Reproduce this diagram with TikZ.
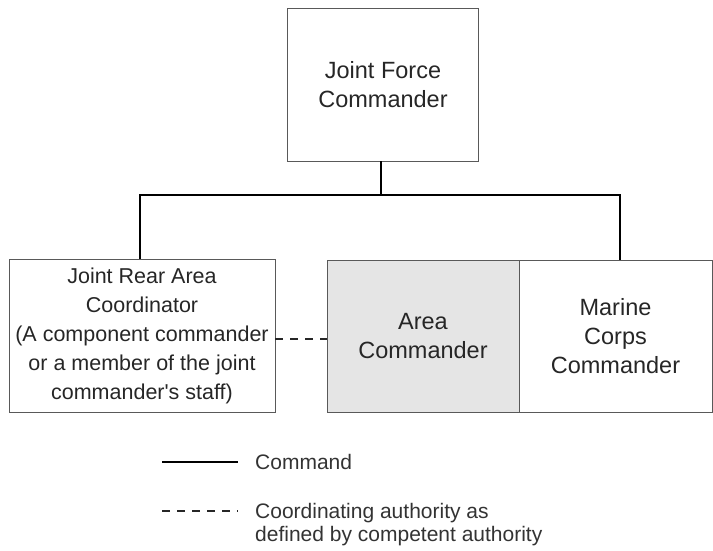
\documentclass[tikz,border=0pt]{standalone}
\usepackage{fontspec}
\setmainfont{Liberation Sans}[Ligatures=TeXOff]
\begin{document}
\begin{tikzpicture}[x=1pt,y=-1pt,
  box/.style={draw=black!65,line width=0.9pt,inner sep=0pt,align=center,
    font=\fontsize{23.5}{29}\selectfont,text=black!85},
  smallbox/.style={box,font=\fontsize{21.5}{29}\selectfont},
  cmd/.style={draw=black,line width=1.5pt},
  coord/.style={draw=black!85,line width=1.3pt,dash pattern=on 8pt off 7pt},
  legtext/.style={font=\fontsize{21}{23}\selectfont,text=black!80,align=left,inner sep=0pt}]
\useasboundingbox (0,0) rectangle (713,550);
% boxes
\node[box,minimum width=191pt,minimum height=153pt] (jfc) at (383,84.5) {Joint Force\\Commander};
\node[smallbox,minimum width=266pt,minimum height=153pt] (jrac) at (142,336) {Joint Rear Area\\Coordinator\\(A component commander\\or a member of the joint\\commander's staff)};
\node[box,fill=black!10,minimum width=192pt,minimum height=152pt] (ac) at (423,336) {Area\\Commander};
\node[box,minimum width=193pt,minimum height=152pt] (mcc) at (615.5,336) {Marine\\Corps\\Commander};
% connectors
\coordinate (bus) at (381,195);
\draw[cmd] (jfc.south -| bus) -- (bus);
\draw[cmd] (jrac.north -| 140,0) |- (bus) -| (mcc.north -| 620,0);
\draw[coord] (jrac.east |- 0,339) -- (ac.west |- 0,339);
% legend
\coordinate (l1a) at (162,462);
\coordinate (l1b) at (238,462);
\coordinate (l2a) at (162,511);
\coordinate (l2b) at (238,511);
\draw[cmd,line width=1.3pt] (l1a) -- (l1b);
\draw[coord] (l2a) -- (l2b);
\node[legtext,anchor=base west] (lc) at (255,469) {Command};
\node[legtext,anchor=base west] (ld) at (255,518) {Coordinating authority as};
\node[legtext,anchor=base west] (ld2) at (255,541) {defined by competent authority};
\end{tikzpicture}
\end{document}
